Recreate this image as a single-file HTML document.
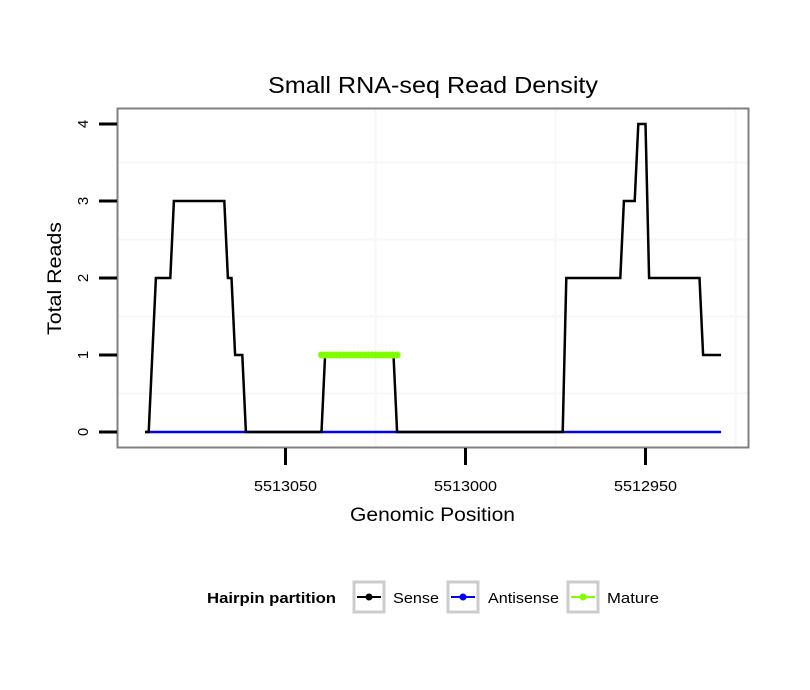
<!DOCTYPE html>
<html><head><meta charset="utf-8"><style>
body{margin:0;background:#fff;}
svg{display:block;font-family:"Liberation Sans",sans-serif;}
</style></head><body>
<svg id="chart" width="810" height="690">
<rect width="810" height="690" fill="#fff"/>
<text x="268" y="93" font-size="23" textLength="330" lengthAdjust="spacingAndGlyphs">Small RNA-seq Read Density</text>
<g id="grid"></g>
<g id="series"></g>
<rect x="117.5" y="108.5" width="631" height="339" fill="none" stroke="#808080" stroke-width="2"/>
<g id="axes"></g>
<text x="350" y="521" font-size="19" textLength="165" lengthAdjust="spacingAndGlyphs">Genomic Position</text>
<text transform="translate(61,335) rotate(-90)" font-size="19" textLength="113" lengthAdjust="spacingAndGlyphs">Total Reads</text>
<g>
<text x="207" y="603" font-size="15" font-weight="bold" textLength="129" lengthAdjust="spacingAndGlyphs">Hairpin partition</text>
<g>
<rect x="354" y="582" width="30" height="30" fill="#fff" stroke="#ccc" stroke-width="3"/>
<line x1="357" y1="597" x2="381" y2="597" stroke="#000" stroke-width="2"/><circle cx="369" cy="597" r="3.5" fill="#000"/>
<text x="393" y="603" font-size="15" textLength="46" lengthAdjust="spacingAndGlyphs">Sense</text></g>
<g>
<rect x="448" y="582" width="30" height="30" fill="#fff" stroke="#ccc" stroke-width="3"/>
<line x1="451" y1="597" x2="475" y2="597" stroke="#0000ff" stroke-width="2"/><circle cx="463" cy="597" r="3.5" fill="#0000ff"/>
<text x="488" y="603" font-size="15" textLength="71" lengthAdjust="spacingAndGlyphs">Antisense</text></g>
<g>
<rect x="568" y="582" width="30" height="30" fill="#fff" stroke="#ccc" stroke-width="3"/>
<line x1="571" y1="597" x2="595" y2="597" stroke="#7fff00" stroke-width="2"/><circle cx="583" cy="597" r="3.5" fill="#7fff00"/>
<text x="607" y="603" font-size="15" textLength="52" lengthAdjust="spacingAndGlyphs">Mature</text></g>
</g>
</svg>
<script>
const BASE = 5513050;
const senseOffsets = [39,38,36,32,31,17,16,15,14,12,11,-10,-11,-30,-31,-77,-78,-93,-94,-97,-98,-100,-101,-115,-116,-121];
const senseValues  = [0,0,2,2,3,3,2,2,1,1,0,0,1,1,0,0,2,2,3,3,4,4,2,2,1,1];
const antisenseOffsets = [39,-121];
const antisenseValues = [0,0];
const matureOffsets = [-10,-11,-12,-13,-14,-15,-16,-17,-18,-19,-20,-21,-22,-23,-24,-25,-26,-27,-28,-29,-30,-31];
const matureValues = [1,1,1,1,1,1,1,1,1,1,1,1,1,1,1,1,1,1,1,1,1,1];
const xTicks = [5513050,5513000,5512950];
const xMinor = [5513025,5512975,5512925];
const yTicks = [0,1,2,3,4];
const yMinor = [0.5,1.5,2.5,3.5];

const NS="http://www.w3.org/2000/svg";
const xs = p => 285.5 + (BASE - p) * 3.6;
const ys = v => 432 - v * 77;
function mk(tag, attrs, parent){const e=document.createElementNS(NS,tag);for(const k in attrs)e.setAttribute(k,attrs[k]);parent.appendChild(e);return e;}
const grid=document.getElementById('grid'), series=document.getElementById('series'), axes=document.getElementById('axes');
xMinor.forEach(p=>{const x=xs(p);if(x>118&&x<748){const l=mk('line',{x1:x,x2:x,y1:109,y2:447,stroke:'#f7f7f7','stroke-width':2},grid);

}});
yMinor.forEach(v=>{const y=ys(v);const l=mk('line',{x1:118,x2:748,y1:y,y2:y,stroke:'#f7f7f7','stroke-width':2},grid);

});
function path(offs, vals){return offs.map((o,i)=>(i?'L':'M')+xs(BASE+o).toFixed(1)+','+ys(vals[i]).toFixed(1)).join(' ');}
const a=mk('path',{d:path(antisenseOffsets,antisenseValues),fill:'none',stroke:'#0000ff','stroke-width':2.5},series);


const s=mk('path',{d:path(senseOffsets,senseValues),fill:'none',stroke:'#000','stroke-width':2.5,'stroke-linejoin':'miter'},series);


const m=mk('path',{d:path(matureOffsets,matureValues),fill:'none',stroke:'#7fff00','stroke-width':5},series);


matureOffsets.forEach((o,i)=>{const c=mk('circle',{cx:xs(BASE+o),cy:ys(matureValues[i]),r:3.5,fill:'#7fff00'},series);

});
xTicks.forEach(p=>{const x=xs(p);
const t=mk('line',{x1:x,x2:x,y1:448,y2:465,stroke:'#000','stroke-width':3},axes);


const tx=mk('text',{x:x-31.5,y:491,'font-size':15,textLength:63,lengthAdjust:'spacingAndGlyphs'},axes);tx.textContent=p;

});
yTicks.forEach(v=>{const y=ys(v);
const t=mk('line',{x1:99,x2:117,y1:y,y2:y,stroke:'#000','stroke-width':3},axes);


const tx=mk('text',{transform:`translate(88,${y}) rotate(-90)`,'font-size':15,'text-anchor':'middle'},axes);tx.textContent=v;

});
</script>
</body></html>
